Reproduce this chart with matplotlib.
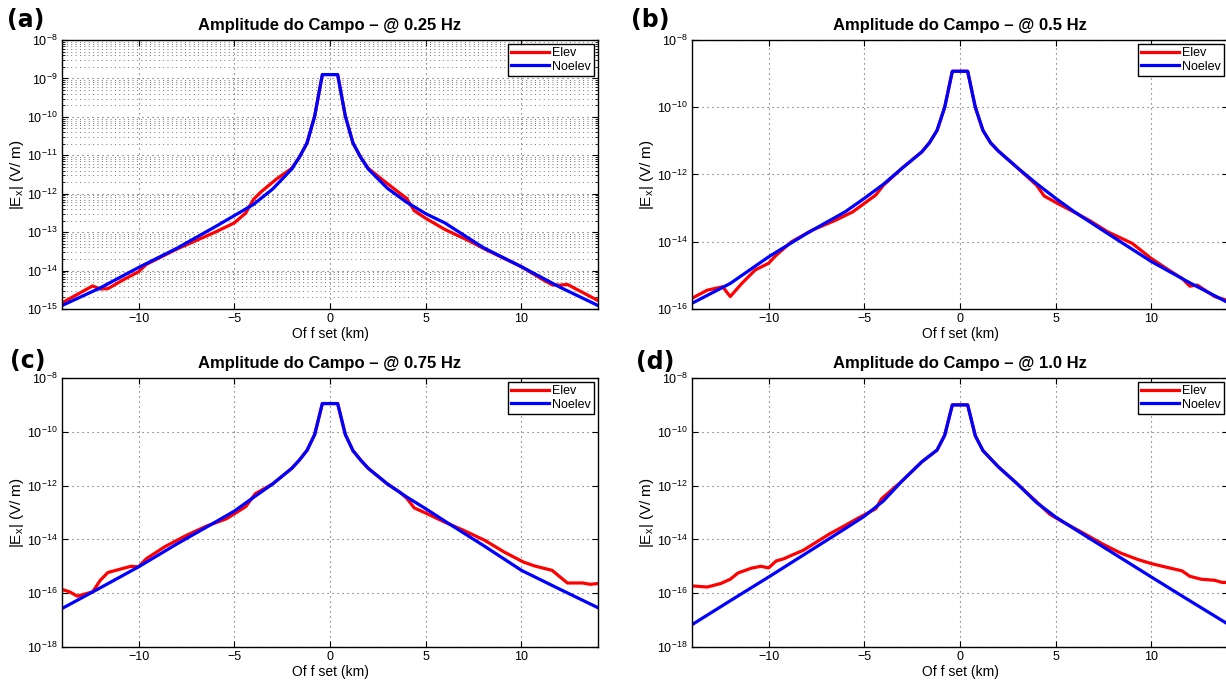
import numpy as np
import matplotlib.pyplot as plt
from matplotlib.ticker import NullLocator, LogLocator

plt.rcParams['font.family'] = ['Liberation Sans', 'DejaVu Sans']
plt.rcParams['mathtext.fontset'] = 'custom'
plt.rcParams['mathtext.rm'] = 'Liberation Sans'
plt.rcParams['mathtext.it'] = 'Liberation Sans:italic'
plt.rcParams['mathtext.bf'] = 'Liberation Sans:bold'

# offsets (km) and log10 |Ex|
# (a) 0.25 Hz
a_noelev_x = [-14, -12, -10, -8, -6, -5, -4, -3, -2, -1.6, -1.2, -0.8, -0.4, 0, 0.4,
              0.8, 1.2, 1.6, 2, 3, 4, 5, 6, 8, 10, 12, 14]
a_noelev = [-14.91, -14.45, -13.92, -13.42, -12.86, -12.57, -12.28, -11.88, -11.36, -11.05,
            -10.68, -9.98, -8.9, -8.9, -8.9, -9.98, -10.68, -11.05, -11.36, -11.86, -12.22,
            -12.52, -12.76, -13.40, -13.90, -14.43, -14.91]
a_elev_x = [-14, -13.2, -12.4, -12.0, -11.6, -10.8, -10.0, -9.6, -8, -6, -5, -4.4, -4.0, -3.6,
            -2.8, -2, -1.6, -1.2, -0.8, -0.4, 0, 0.4, 0.8, 1.2, 1.6, 2, 2.8, 3.6, 4.0, 4.4, 5,
            6, 7.2, 8.2, 10, 11.2, 11.6, 12.0, 12.4, 14]
a_elev = [-14.84, -14.62, -14.40, -14.48, -14.47, -14.24, -14.03, -13.84, -13.44, -13.0,
          -12.76, -12.5, -12.15, -11.95, -11.62, -11.34, -11.05, -10.68, -9.98, -8.9, -8.9,
          -8.9, -9.98, -10.68, -11.05, -11.34, -11.66, -11.97, -12.12, -12.44, -12.64,
          -12.93, -13.21, -13.47, -13.9, -14.26, -14.37, -14.38, -14.36, -14.78]

# (b) 0.5 Hz
b_noelev_x = a_noelev_x
b_noelev = [-15.83, -15.24, -14.45, -13.75, -13.11, -12.71, -12.29, -11.8, -11.33, -11.06,
            -10.69, -10.0, -8.93, -8.93, -8.93, -10.0, -10.69, -11.06, -11.3, -11.8, -12.27,
            -12.71, -13.12, -13.86, -14.59, -15.22, -15.81]
b_elev_x = [-14, -13.2, -12.4, -12.0, -11.4, -10.7, -10.0, -9.6, -8.8, -7.7, -6.5, -5.6, -4.4,
            -4.0, -3, -2, -1.6, -1.2, -0.8, -0.4, 0, 0.4, 0.8, 1.2, 1.6, 2, 3, 4.0, 4.4, 5.1,
            6.1, 6.8, 7.7, 9.0, 10.0, 10.9, 11.6, 12.0, 12.4, 13.3, 14]
b_elev = [-15.68, -15.44, -15.34, -15.63, -15.24, -14.84, -14.64, -14.40, -14.0, -13.65,
          -13.36, -13.11, -12.61, -12.32, -11.8, -11.33, -11.06, -10.69, -10.0, -8.93, -8.93,
          -8.93, -10.0, -10.69, -11.06, -11.3, -11.8, -12.32, -12.64, -12.86, -13.16, -13.38,
          -13.70, -14.05, -14.50, -14.84, -15.09, -15.32, -15.29, -15.63, -15.75]

# (c) 0.75 Hz
c_noelev_x = a_noelev_x
c_noelev = [-16.57, -15.8, -15.02, -14.17, -13.36, -12.95, -12.44, -11.94, -11.36, -11.05,
            -10.69, -10.1, -8.95, -8.95, -8.95, -10.1, -10.7, -11.05, -11.36, -11.94, -12.42,
            -12.86, -13.32, -14.22, -15.15, -15.85, -16.54]
c_elev_x = [-14, -13.6, -13.2, -12.4, -12.0, -11.6, -10.4, -10.0, -9.6, -8.6, -7.5, -6.5, -5.4,
            -4.4, -3.9, -3, -2, -1.6, -1.2, -0.8, -0.4, 0, 0.4, 0.8, 1.2, 1.6, 2, 3, 3.6, 4.0,
            4.4, 5.0, 6.0, 7.0, 8.1, 9.1, 10.1, 10.7, 11.6, 12.4, 13.2, 13.6, 14]
c_elev = [-15.86, -15.95, -16.11, -15.95, -15.52, -15.23, -15.0, -15.02, -14.72, -14.26,
          -13.85, -13.52, -13.23, -12.78, -12.3, -11.94, -11.36, -11.05, -10.69, -10.1, -8.95,
          -8.95, -8.95, -10.1, -10.7, -11.05, -11.36, -11.94, -12.22, -12.46, -12.83, -13.02,
          -13.36, -13.67, -14.04, -14.47, -14.84, -14.99, -15.15, -15.62, -15.62, -15.67,
          -15.64]

# (d) 1.0 Hz
d_noelev_x = a_noelev_x
d_noelev = [-17.17, -16.28, -15.40, -14.5, -13.6, -13.14, -12.57, -11.81, -11.12, -10.9,
            -10.68, -10.13, -9.0, -9.0, -9.0, -10.15, -10.70, -11.0, -11.3, -11.94, -12.63,
            -13.17, -13.62, -14.51, -15.40, -16.28, -17.15]
d_elev_x = [-14, -13.2, -12.5, -12.0, -11.6, -10.9, -10.4, -10.0, -9.6, -9.2, -8.8, -8.2, -7.5,
            -6.8, -6.1, -5.3, -4.4, -4.1, -3, -2, -1.6, -1.2, -0.8, -0.4, 0, 0.4, 0.8, 1.2,
            1.6, 2, 3, 4.0, 4.2, 4.7, 5.4, 6.5, 7.5, 8.4, 9.3, 10.0, 10.7, 11.6, 12.0, 12.6,
            13.3, 13.7, 14]
d_elev = [-15.73, -15.77, -15.64, -15.48, -15.25, -15.07, -15.0, -15.06, -14.80, -14.72,
          -14.59, -14.41, -14.10, -13.79, -13.52, -13.2, -12.86, -12.49, -11.81, -11.12, -10.9,
          -10.68, -10.13, -9.0, -9.0, -9.0, -10.15, -10.70, -11.0, -11.3, -11.94, -12.6,
          -12.74, -13.07, -13.36, -13.79, -14.19, -14.51, -14.75, -14.90, -15.02, -15.17,
          -15.37, -15.48, -15.52, -15.60, -15.60]

freqs = ['0.25', '0.5', '0.75', '1.0']
letters = ['(a)', '(b)', '(c)', '(d)']
y_ranges = [(1e-15, 1e-8), (1e-16, 1e-8), (1e-18, 1e-8), (1e-18, 1e-8)]
x_ticks = [-10, -5, 0, 5, 10]

W, H = 1226, 680
fig = plt.figure(figsize=(W / 100, H / 100), dpi=100)

# axes boxes in pixels: left, top, right, bottom
boxes = [(62, 40, 598, 309), (692, 40, 1228, 309),
         (62, 378, 598, 647), (692, 378, 1228, 647)]
letter_pos = [(26, 20), (650, 20), (28, 361), (655, 362)]

data = [(a_elev_x, a_elev, a_noelev_x, a_noelev),
        (b_elev_x, b_elev, b_noelev_x, b_noelev),
        (c_elev_x, c_elev, c_noelev_x, c_noelev),
        (d_elev_x, d_elev, d_noelev_x, d_noelev)]

dots = (0, (1, 3.5))

for k in range(4):
    l, t, r, b = boxes[k]
    ax = fig.add_axes([l / W, 1 - b / H, (r - l) / W, (b - t) / H])
    ex, ey, nx, ny = data[k]
    ax.semilogy(ex, 10.0 ** np.array(ey), color='r', lw=2.3, label='Elev')
    ax.semilogy(nx, 10.0 ** np.array(ny), color='b', lw=2.3, label='Noelev')
    ax.set_xlim(-14, 14)
    ax.set_ylim(*y_ranges[k])
    ax.set_xticks(x_ticks)
    lo, hi = np.log10(y_ranges[k])
    if k == 0:
        ax.set_yticks(10.0 ** np.arange(lo, hi + 1))
        ax.yaxis.set_minor_locator(LogLocator(base=10, subs=np.arange(2, 10), numticks=20))
        ax.grid(True, which='minor', axis='y', ls=dots, lw=0.7, color='0.45')
    else:
        ax.set_yticks(10.0 ** np.arange(lo, hi + 1, 2))
        ax.yaxis.set_minor_locator(NullLocator())
    ax.grid(True, which='major', ls=dots, lw=0.8, color='0.35')
    ax.tick_params(which='both', direction='in', top=True, right=True, labelsize=9,
                   pad=3, length=4)
    ax.tick_params(which='minor', length=2)
    for s in ax.spines.values():
        s.set_linewidth(1.0)
    ax.set_xlabel('Of f set (km)', fontsize=10, labelpad=1)
    ax.set_ylabel(r'|E$_{\mathrm{x}}$| (V/ m)', fontsize=11, labelpad=1)
    ax.set_title('Amplitude do Campo \u2013 @ ' + freqs[k] + ' Hz', fontsize=12,
                 fontweight='bold', pad=7)
    ax.legend(loc='upper right', fontsize=9, fancybox=False, edgecolor='k',
              framealpha=1, handlelength=3.0, handletextpad=0.3, labelspacing=0.15,
              borderpad=0.25, borderaxespad=0.3)
    fig.text(letter_pos[k][0] / W, 1 - letter_pos[k][1] / H, letters[k], fontsize=17,
             fontweight='bold', family='DejaVu Sans', ha='center', va='center')

fig.savefig('out.png', dpi=100)
